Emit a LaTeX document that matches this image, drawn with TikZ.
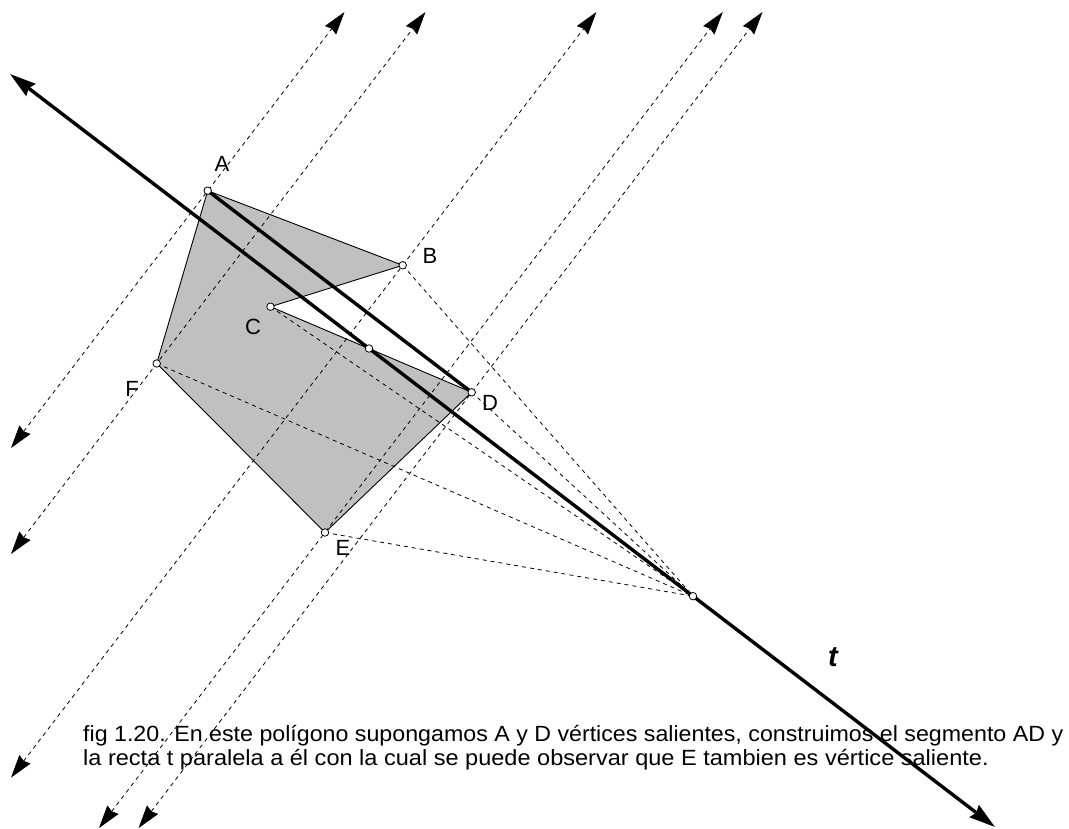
\documentclass[tikz,border=0pt]{standalone}
\usepackage{fontspec}
\setmainfont{Liberation Sans}
\usetikzlibrary{arrows.meta}
\begin{document}
\begin{tikzpicture}[x=1pt,y=-1pt,
  bigtip/.tip={Stealth[length=26pt,width=15pt,inset=2.5pt,fill=black]},
  smalltip/.tip={Stealth[length=23pt,width=14pt,inset=2pt,fill=black]},
  thickline/.style={line width=3.4pt, line cap=butt},
  tline/.style={thickline, bigtip-bigtip},
  perpline/.style={line width=0.8pt, dash pattern=on 4pt off 4pt, smalltip-smalltip},
  projline/.style={line width=0.8pt, dash pattern=on 4pt off 4pt},
  ptmark/.style={circle, draw=black, fill=white, line width=0.8pt, inner sep=0pt, minimum size=7.5pt},
  lbl/.style={font=\fontsize{22}{24}\selectfont, inner sep=0pt},
  caption/.style={font=\fontsize{22}{24}\selectfont, inner sep=0pt, anchor=base west}
]
\definecolor{polygray}{RGB}{192,192,192}
\useasboundingbox (0,0) rectangle (1069,829);
% vertices
\coordinate (A) at (207.7,190.7);
\coordinate (B) at (402.7,265.3);
\coordinate (C) at (270.5,306.7);
\coordinate (D) at (471.7,392.3);
\coordinate (E) at (325,532.5);
\coordinate (F) at (156.7,363.5);
\coordinate (M) at (369,348.5);
\coordinate (P) at (693,596.2);
% ends of line t
\coordinate (t1) at (10,74);
\coordinate (t2) at (995,827);
% ends of the perpendicular lines
\coordinate (A1) at (11,448);   \coordinate (A2) at (344.5,12);
\coordinate (F1) at (11,554);   \coordinate (F2) at (425.5,12);
\coordinate (B1) at (11,777.6); \coordinate (B2) at (596.4,12);
\coordinate (E1) at (99,828);   \coordinate (E2) at (722.8,12);
\coordinate (D1) at (138.6,828);\coordinate (D2) at (762.5,12);
% polygon fill
\fill[polygray] (A) -- (B) -- (C) -- (D) -- (E) -- (F) -- cycle;
% perpendicular dashed lines
\draw[perpline] (A1) -- (A2);
\draw[perpline] (F1) -- (F2);
\draw[perpline] (B1) -- (B2);
\draw[perpline] (E1) -- (E2);
\draw[perpline] (D1) -- (D2);
% projections to P
\draw[projline] (B) -- (P);
\draw[projline] (C) -- (P);
\draw[projline] (D) -- (P);
\draw[projline] (E) -- (P);
\draw[projline] (F) -- (P);
% polygon edges
\draw[draw=black, line width=0.9pt, line join=round] (A) -- (B) -- (C) -- (D) -- (E) -- (F) -- cycle;
% segment AD and line t
\draw[thickline] (A) -- (D);
\draw[tline] (t1) -- (t2);
% point marks
\foreach \p in {A,B,C,D,E,F,M,P} \node[ptmark] (pt\p) at (\p) {};
% labels
\node[lbl] (lA) at (222,164) {A};
\node[lbl] (lB) at (430,256) {B};
\node[lbl] (lC) at (253,327) {C};
\node[lbl] (lD) at (490,403) {D};
\node[lbl] (lE) at (343,548) {E};
\node[lbl] (lF) at (132,389) {F};
\node[inner sep=0pt, font=\fontsize{29}{29}\selectfont\bfseries\itshape] (lt) at (833,657) {t};
% caption
\node[caption] (cap1) at (83,741) {\scalebox{1.055}[1]{fig 1.20. En este polígono supongamos A y D vértices salientes, construimos el segmento AD y}};
\node[caption] (cap2) at (83,765) {\scalebox{1.07}[1]{la recta t paralela a él con la cual se puede observar que E tambien es vértice saliente.}};
\end{tikzpicture}
\end{document}
